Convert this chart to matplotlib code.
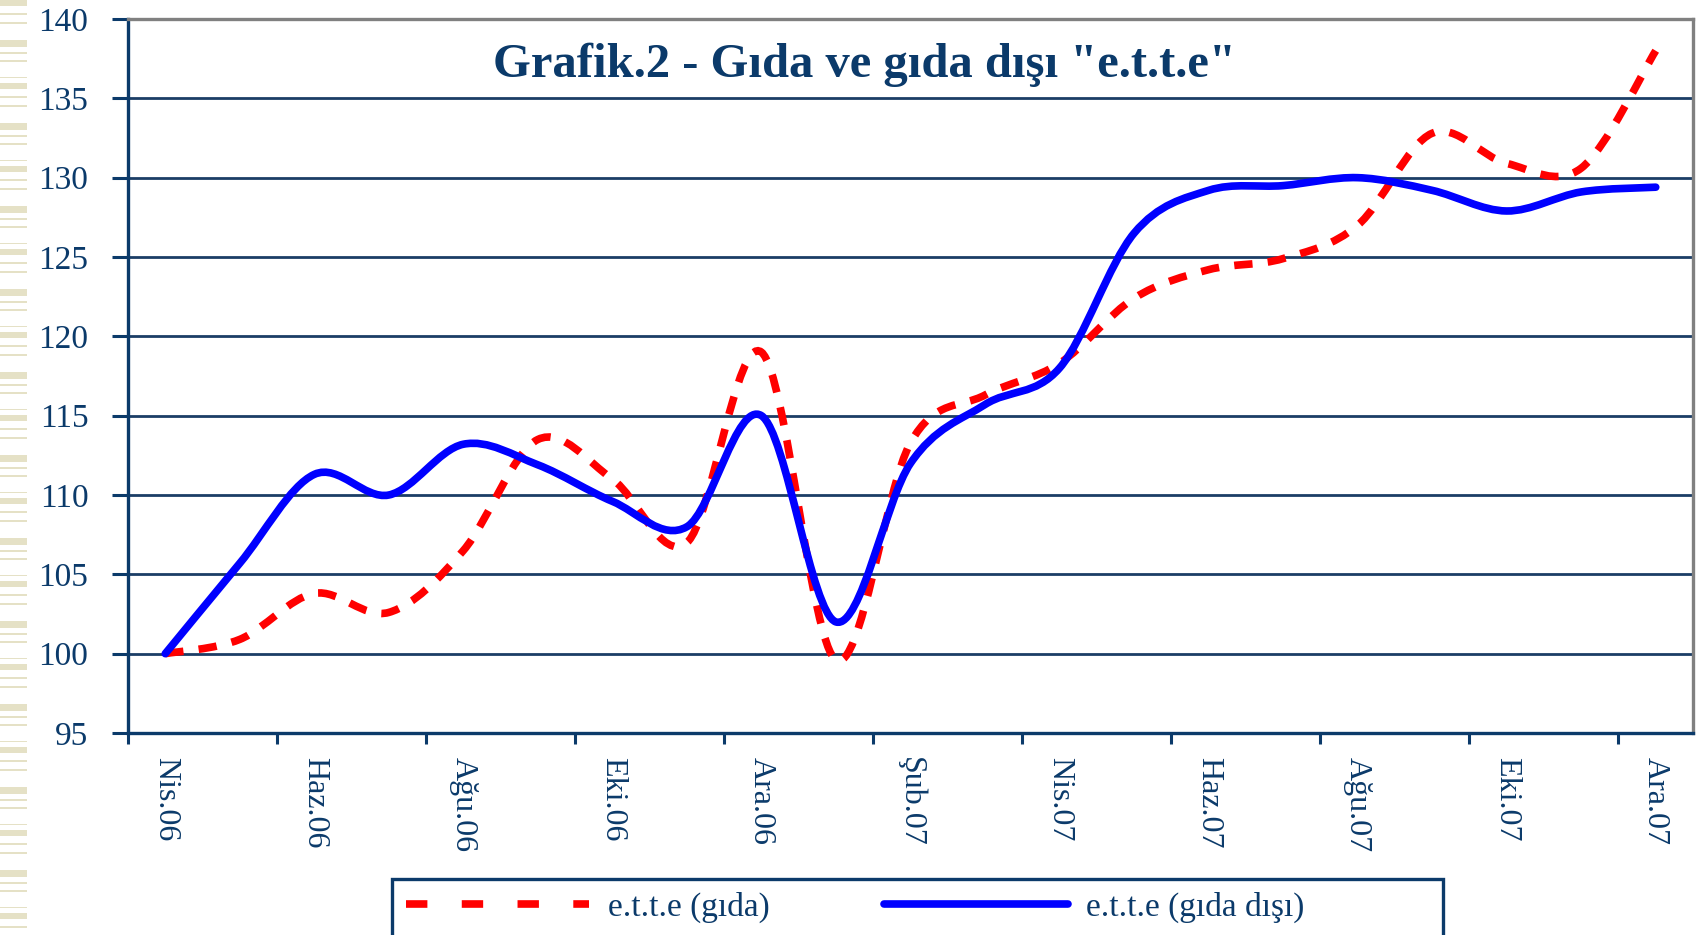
import numpy as np
import matplotlib
matplotlib.use("Agg")
import matplotlib.pyplot as plt
from matplotlib.path import Path
from matplotlib.patches import PathPatch, Rectangle
from matplotlib.lines import Line2D

plt.rcParams['font.family'] = ['Liberation Serif', 'DejaVu Serif']

# ---- data ----
months = ["Nis.06", "May.06", "Haz.06", "Tem.06", "Ağu.06", "Eyl.06", "Eki.06",
          "Kas.06", "Ara.06", "Oca.07", "Şub.07", "Mar.07", "Nis.07", "May.07",
          "Haz.07", "Tem.07", "Ağu.07", "Eyl.07", "Eki.07", "Kas.07", "Ara.07"]
gida = [100.0, 100.9, 103.8, 102.6, 106.5, 113.5, 111.0, 107.0, 119.0, 99.6, 113.3,
        116.3, 118.3, 122.4, 124.2, 124.9, 127.0, 132.8, 130.9, 130.6, 138.0]
gida_disi = [100.0, 105.7, 111.3, 110.0, 113.2, 111.9, 109.6, 108.0, 115.0, 102.0, 112.0,
             115.7, 118.0, 126.5, 129.2, 129.5, 130.0, 129.2, 127.9, 129.1, 129.4]
series_names = ["e.t.t.e (gıda)", "e.t.t.e (gıda dışı)"]
title = 'Grafik.2 - Gıda ve gıda dışı "e.t.t.e"'
yticks = [95, 100, 105, 110, 115, 120, 125, 130, 135, 140]

NAVY = "#0B3A6A"
GRID = "#1B3D66"
RED = "#FF0000"
BLUE = "#0000FF"

W, H = 1697, 935
fig = plt.figure(figsize=(W / 100, H / 100), dpi=100)
fig.patch.set_facecolor("white")

# decorative striped band on the left edge
stripe_pattern = [(0, 6), (13, 2), (22, 2), (40, 7), (52, 2), (60, 2), (77, 1)]
period = 83
for k in range(0, H // period + 2):
    for (yy, hh) in stripe_pattern:
        y0 = k * period + yy
        fig.patches.append(Rectangle((0, 1 - (y0 + hh) / H), 27 / W, hh / H,
                                     transform=fig.transFigure, facecolor="#E5E1C6",
                                     edgecolor="none", zorder=0))

ax = fig.add_axes([128 / W, 1 - 733 / H, (1693 - 128) / W, (733 - 19) / H])
ax.set_facecolor("white")
x = np.arange(len(months))


def smooth_path(xs, ys):
    pts = np.column_stack([xs, ys]).astype(float)
    n = len(pts)
    verts = [pts[0]]
    codes = [Path.MOVETO]
    for i in range(n - 1):
        p0 = pts[i - 1] if i > 0 else pts[i]
        p1 = pts[i]
        p2 = pts[i + 1]
        p3 = pts[i + 2] if i + 2 < n else pts[i + 1]
        verts += [p1 + (p2 - p0) / 6, p2 - (p3 - p1) / 6, p2]
        codes += [Path.CURVE4] * 3
    return Path(verts, codes)


lw = 5.5
red_dash = (0, (2.4, 2.0))
ax.add_patch(PathPatch(smooth_path(x, gida), fill=False, edgecolor=RED, lw=lw,
                       linestyle=red_dash, capstyle="butt", zorder=3))
ax.add_patch(PathPatch(smooth_path(x, gida_disi), fill=False, edgecolor=BLUE, lw=lw,
                       capstyle="round", joinstyle="round", zorder=4))

ax.set_xlim(-0.5, len(months) - 0.5)
ax.set_ylim(95, 140)
ax.set_yticks(yticks)
ax.set_yticklabels([str(v) for v in yticks], fontsize=24, color=NAVY)
ax.yaxis.grid(True, color=GRID, lw=2.0)
ax.set_axisbelow(True)

ax.set_xticks(x[::2])
ax.set_xticklabels(months[::2], rotation=270, fontsize=23, color=NAVY,
                   va="top", ha="center")
ax.set_xticks(np.arange(-0.5, len(months) - 1, 2), minor=True)
ax.tick_params(axis="x", which="major", length=0, pad=17)
ax.tick_params(axis="x", which="minor", length=8, width=2.2, color=NAVY, direction="out")
ax.tick_params(axis="y", length=11.5, width=2.2, color=NAVY, direction="out", pad=17)

for s in ["left", "bottom"]:
    ax.spines[s].set_color(NAVY)
    ax.spines[s].set_linewidth(2.4)
for s in ["top", "right"]:
    ax.spines[s].set_color("#808080")
    ax.spines[s].set_linewidth(2.4)

fig.text(864 / W, 1 - 77 / H, title, fontsize=35, fontweight="bold", color=NAVY,
         ha="center", va="baseline")

# legend
handles = [Line2D([], [], color=RED, lw=lw, linestyle=(0, (2.8, 4.5)), solid_capstyle="butt",
                  dash_capstyle="butt"),
           Line2D([], [], color=BLUE, lw=lw, solid_capstyle="round")]
leg = fig.legend(handles, series_names, loc="center left",
                 bbox_to_anchor=(406 / W, 1 - 907 / H), ncol=2, frameon=False,
                 fontsize=24, handlelength=5.5, handletextpad=0.55, columnspacing=3.45,
                 borderpad=0, borderaxespad=0)
for t in leg.get_texts():
    t.set_color(NAVY)
fig.patches.append(Rectangle((392 / W, -0.02), (1443 - 392) / W, 0.02 + (935 - 879) / H,
                             transform=fig.transFigure, facecolor="white",
                             edgecolor=NAVY, lw=2.4, zorder=1))

fig.savefig("out.png", dpi=100, facecolor="white")
